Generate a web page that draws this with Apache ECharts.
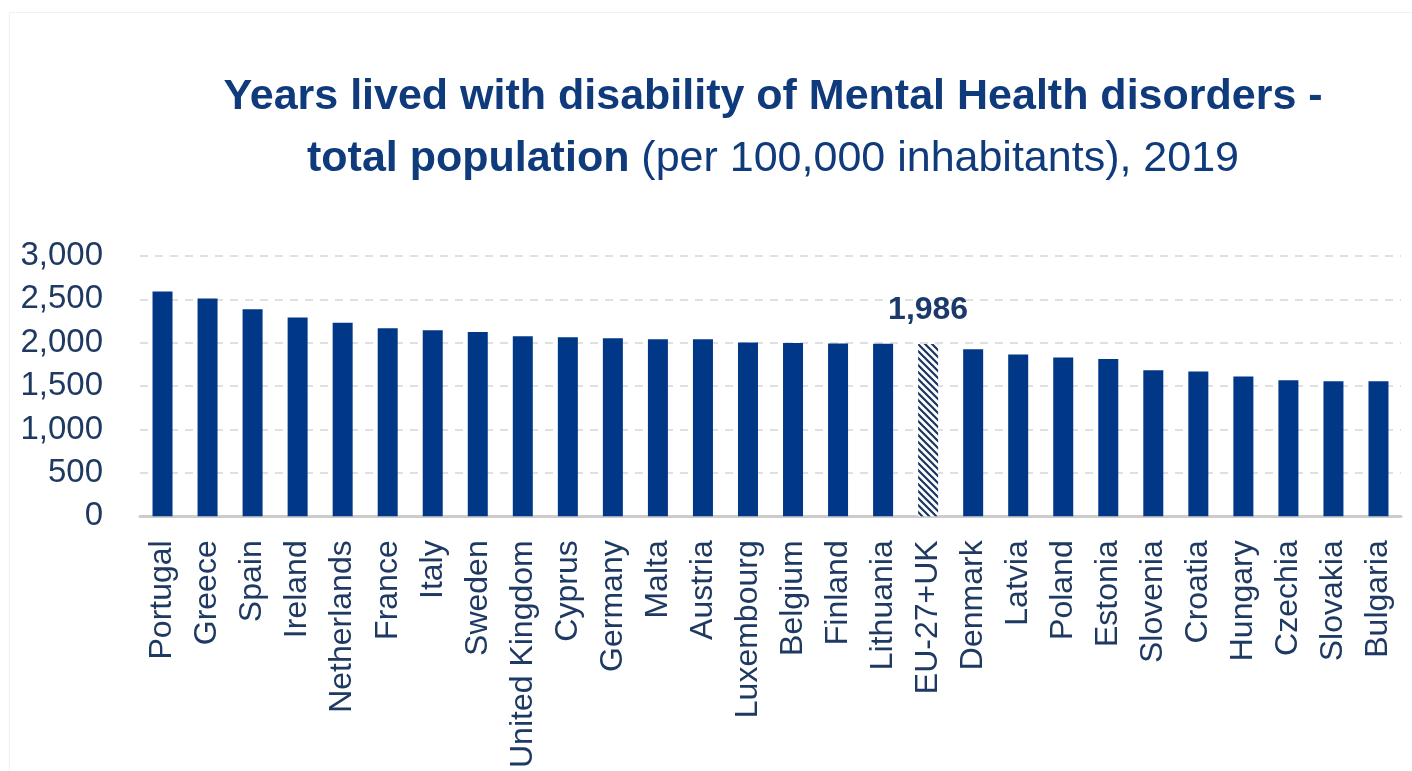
<!DOCTYPE html>
<html>
<head>
<meta charset="utf-8">
<script src="https://cdn.jsdelivr.net/npm/echarts@6/dist/echarts.min.js"></script>
<style>
  html, body { margin: 0; padding: 0; background: #ffffff; }
  #chart { width: 1412px; height: 771px; }
</style>
</head>
<body>
<div id="chart"></div>
<script>
// Years lived with disability (YLD) of mental health disorders, per 100,000 inhabitants, 2019
const countries = [
  'Portugal', 'Greece', 'Spain', 'Ireland', 'Netherlands', 'France', 'Italy',
  'Sweden', 'United Kingdom', 'Cyprus', 'Germany', 'Malta', 'Austria',
  'Luxembourg', 'Belgium', 'Finland', 'Lithuania', 'EU-27+UK', 'Denmark',
  'Latvia', 'Poland', 'Estonia', 'Slovenia', 'Croatia', 'Hungary', 'Czechia',
  'Slovakia', 'Bulgaria'
];
const yldValues = [
  2590, 2510, 2386, 2292, 2231, 2167, 2144,
  2125, 2076, 2065, 2053, 2042, 2040,
  2004, 1998, 1992, 1989, 1986, 1926,
  1864, 1830, 1814, 1682, 1670, 1610, 1568,
  1557, 1556
];
const averageLabel = 'EU-27+UK';
const yTicks = [0, 500, 1000, 1500, 2000, 2500, 3000];

const NAVY = '#003787';
const TEXT = '#1f3a62';
const FONT = 'Liberation Sans, Arial, sans-serif';

// Diagonal hatch used for the EU average bar
function hatchPattern() {
  const size = 7;
  const c = document.createElement('canvas');
  c.width = size; c.height = size;
  const ctx = c.getContext('2d');
  ctx.fillStyle = '#ffffff';
  ctx.fillRect(0, 0, size, size);
  ctx.strokeStyle = '#1b3560';
  ctx.lineWidth = 2.2;
  ctx.beginPath();
  for (let k = -1; k <= 1; k++) {
    ctx.moveTo(k * size - 1, -1);
    ctx.lineTo(k * size + size + 1, size + 1);
  }
  ctx.stroke();
  return c;
}

const barData = countries.map((name, i) => {
  if (name === averageLabel) {
    return {
      value: yldValues[i],
      itemStyle: { color: { image: hatchPattern(), repeat: 'repeat' } },
      label: {
        show: true,
        position: 'top',
        distance: 18,
        formatter: p => p.value.toLocaleString('en-US'),
        fontFamily: FONT,
        fontWeight: 'bold',
        fontSize: 32,
        color: '#1b3a6b'
      }
    };
  }
  return yldValues[i];
});

const chart = echarts.init(document.getElementById('chart'), null, { renderer: 'canvas' });
chart.setOption({
  backgroundColor: '#ffffff',
  animation: false,
  graphic: [{
    type: 'rect',
    silent: true,
    shape: { x: 9.5, y: 12.5, width: 1420, height: 780 },
    style: { fill: 'none', stroke: '#edf2f5', lineWidth: 1 }
  }],
  title: {
    left: 773,
    top: 66,
    textAlign: 'center',
    padding: 0,
    text: '{b|Years lived with disability of Mental Health disorders -}\n{b|total population}{r| (per 100,000 inhabitants), 2019}',
    textStyle: {
      rich: {
        b: {
          fontFamily: FONT,
          fontWeight: 'bold', fontSize: 43, color: '#0f3a7c', lineHeight: 62
        },
        r: {
          fontFamily: FONT,
          fontWeight: 'normal', fontSize: 43, color: '#0f3a7c', lineHeight: 62
        }
      }
    }
  },
  grid: { left: 140, right: 11, top: 256, bottom: 251, containLabel: false },
  xAxis: {
    type: 'category',
    data: countries,
    axisLine: { show: true, lineStyle: { color: '#cccccc', width: 3 } },
    axisTick: { show: false },
    axisLabel: {
      interval: 0,
      rotate: 90,
      margin: 24,
      fontFamily: FONT,
      fontSize: 32,
      color: TEXT
    }
  },
  yAxis: {
    type: 'value',
    min: yTicks[0],
    max: yTicks[yTicks.length - 1],
    interval: yTicks[1] - yTicks[0],
    axisLine: { show: false },
    axisTick: { show: false },
    splitLine: { lineStyle: { color: '#d6d6d6', width: 1.5, type: [8, 7] } },
    axisLabel: {
      margin: 37,
      fontFamily: FONT,
      fontSize: 33,
      color: TEXT,
      formatter: v => v.toLocaleString('en-US')
    }
  },
  series: [{
    type: 'bar',
    data: barData,
    barWidth: 20,
    itemStyle: { color: NAVY }
  }]
});
</script>
</body>
</html>
